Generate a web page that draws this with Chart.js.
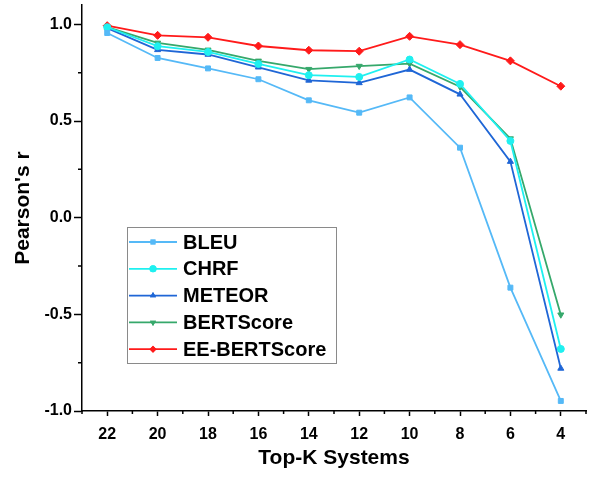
<!DOCTYPE html>
<html lang="en">
<head>
    <meta charset="UTF-8">
    <title>Pearson's r vs Top-K Systems</title>
    <script src="https://cdn.jsdelivr.net/npm/chart.js"></script>
    <style>
        body {
            margin: 0;
            padding: 0;
            background: #fff;
        }
        #chart-container {
            width: 591px;
            height: 477px;
        }
    </style>
</head>
<body>
    <div id="chart-container">
        <canvas id="myChart" width="591" height="477"></canvas>
    </div>
    <script>
        // data
        const topK = [22, 20, 18, 16, 14, 12, 10, 8, 6, 4];
        const bleu = [0.955, 0.826, 0.772, 0.716, 0.607, 0.543, 0.622, 0.362, -0.362, -0.948];
        const chrf = [0.985, 0.887, 0.857, 0.795, 0.737, 0.728, 0.818, 0.692, 0.397, -0.679];
        const meteor = [0.980, 0.868, 0.844, 0.778, 0.710, 0.697, 0.766, 0.638, 0.290, -0.780];
        const bertScore = [0.985, 0.904, 0.868, 0.811, 0.768, 0.784, 0.797, 0.677, 0.409, -0.502];
        const eeBertScore = [0.993, 0.943, 0.933, 0.888, 0.866, 0.861, 0.938, 0.895, 0.811, 0.680];
        const xTicks = [22, 20, 18, 16, 14, 12, 10, 8, 6, 4];
        const yTicks = [-1.0, -0.5, 0.0, 0.5, 1.0];

        const FONT = "'Liberation Sans', Arial, sans-serif";

        function series(label, values, color, style, rotation) {
            return {
                label: label,
                data: topK.map((k, i) => ({ x: k, y: values[i] })),
                borderColor: color,
                backgroundColor: color,
                borderWidth: 1.8,
                pointStyle: style,
                pointRotation: rotation || 0,
                pointRadius: style === 'rectRot' ? 4 : 3.5,
                pointBorderWidth: 1,
                tension: 0,
                fill: false
            };
        }

        // minor ticks + legend box inside the plot
        const extras = {
            id: 'extras',
            afterDraw(chart) {
                const ctx = chart.ctx;
                const xs = chart.scales.x;
                const ys = chart.scales.y;
                const area = chart.chartArea;
                ctx.save();
                ctx.strokeStyle = '#000';
                ctx.lineWidth = 1.5;
                ctx.beginPath();
                for (let k = 3; k <= 23; k += 2) {
                    const px = xs.getPixelForValue(k);
                    ctx.moveTo(px, area.bottom);
                    ctx.lineTo(px, area.bottom + 3);
                }
                [-0.75, -0.25, 0.25, 0.75].forEach(v => {
                    const py = ys.getPixelForValue(v);
                    ctx.moveTo(area.left, py);
                    ctx.lineTo(area.left - 4, py);
                });
                ctx.stroke();

                // legend
                const bx = 127, by = 227, bw = 209, bh = 136;
                ctx.fillStyle = '#fff';
                ctx.fillRect(bx, by, bw, bh);
                ctx.strokeStyle = '#8a8a8a';
                ctx.lineWidth = 1;
                ctx.strokeRect(bx + 0.5, by + 0.5, bw, bh);
                ctx.font = 'bold 20px ' + FONT;
                ctx.textBaseline = 'middle';
                chart.data.datasets.forEach((ds, i) => {
                    const cy = 242 + i * 26.8;
                    ctx.strokeStyle = ds.borderColor;
                    ctx.lineWidth = 1.8;
                    ctx.beginPath();
                    ctx.moveTo(129, cy);
                    ctx.lineTo(177, cy);
                    ctx.stroke();
                    ctx.fillStyle = ds.borderColor;
                    ctx.beginPath();
                    Chart.helpers.drawPoint(ctx, {
                        pointStyle: ds.pointStyle,
                        rotation: ds.pointRotation,
                        radius: 3.5,
                        borderWidth: 0
                    }, 153, cy);
                    ctx.fill();
                    ctx.fillStyle = '#000';
                    ctx.fillText(ds.label, 183, cy + 1);
                });
                ctx.restore();
            }
        };

        const ctx = document.getElementById('myChart').getContext('2d');
        const myChart = new Chart(ctx, {
            type: 'line',
            data: {
                datasets: [
                    series('BLEU', bleu, '#55b9f7', 'rect'),
                    series('CHRF', chrf, '#1ff0f0', 'circle'),
                    series('METEOR', meteor, '#1f66d6', 'triangle'),
                    series('BERTScore', bertScore, '#36a86b', 'triangle', 180),
                    series('EE-BERTScore', eeBertScore, '#ff1a1a', 'rectRot')
                ]
            },
            options: {
                responsive: false,
                animation: false,
                layout: { padding: { left: 0, right: 3, top: 3, bottom: 0 } },
                plugins: {
                    legend: { display: false },
                    tooltip: { enabled: false }
                },
                scales: {
                    x: {
                        type: 'linear',
                        reverse: true,
                        min: 3,
                        max: 23,
                        afterBuildTicks: scale => {
                            scale.ticks = xTicks.map(v => ({ value: v }));
                        },
                        afterFit: scale => {
                            scale.height = 66;
                            scale.paddingLeft = 0;
                            scale.paddingRight = 0;
                        },
                        ticks: {
                            color: '#000',
                            padding: 9,
                            maxRotation: 0,
                            font: { family: FONT, size: 16, weight: 'bold' }
                        },
                        grid: {
                            drawOnChartArea: false,
                            tickLength: 5,
                            tickWidth: 1.5,
                            tickColor: '#000'
                        },
                        border: { color: '#000', width: 1.5 },
                        title: {
                            display: true,
                            text: 'Top-K Systems',
                            color: '#000',
                            padding: { top: 0, bottom: 6 },
                            font: { family: FONT, size: 21, weight: 'bold' }
                        }
                    },
                    y: {
                        min: -1.0,
                        max: 1.1,
                        afterBuildTicks: scale => {
                            scale.ticks = yTicks.map(v => ({ value: v }));
                        },
                        afterFit: scale => {
                            scale.width = 82;
                            scale.paddingTop = 0;
                            scale.paddingBottom = 0;
                        },
                        ticks: {
                            color: '#000',
                            padding: 2,
                            callback: v => v.toFixed(1),
                            font: { family: FONT, size: 16, weight: 'bold' }
                        },
                        grid: {
                            drawOnChartArea: false,
                            tickLength: 8,
                            tickWidth: 1.5,
                            tickColor: '#000'
                        },
                        border: { color: '#000', width: 1.5 },
                        title: {
                            display: true,
                            text: "Pearson's r",
                            color: '#000',
                            padding: { top: 11, bottom: 0 },
                            font: { family: FONT, size: 21, weight: 'bold' }
                        }
                    }
                }
            },
            plugins: [extras]
        });
    </script>
</body>
</html>
